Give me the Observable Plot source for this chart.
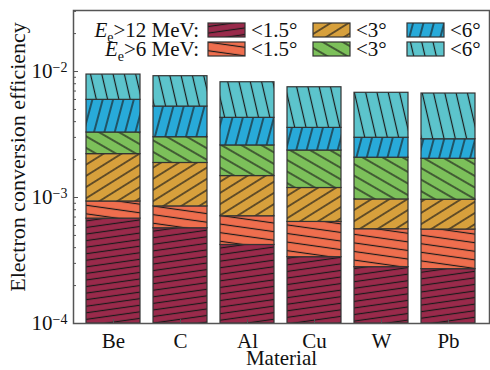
<!DOCTYPE html>
<html><head><meta charset="utf-8">
<script src="https://cdn.jsdelivr.net/npm/d3@7"></script>
<script src="https://cdn.jsdelivr.net/npm/@observablehq/plot@0.6"></script>
<style>body{margin:0;background:#fff} #chart{width:490px;height:370px}</style>
</head><body><div id="chart"></div>
<script>
// ---- data ----
const materials = ["Be", "C", "Al", "Cu", "W", "Pb"];
// efficiency for each (energy, angle) cut, bottom-most first
const eff12_15 = [0.68e-3, 0.57e-3, 0.42e-3, 0.336e-3, 0.28e-3, 0.27e-3];
const eff6_15  = [0.93e-3, 0.85e-3, 0.71e-3, 0.64e-3, 0.56e-3, 0.557e-3];
const eff12_3  = [2.21e-3, 1.88e-3, 1.48e-3, 1.19e-3, 0.965e-3, 0.96e-3];
const eff6_3   = [3.28e-3, 3.01e-3, 2.59e-3, 2.36e-3, 2.07e-3, 2.03e-3];
const eff12_6  = [5.96e-3, 5.27e-3, 4.29e-3, 3.57e-3, 2.98e-3, 2.90e-3];
const eff6_6   = [9.46e-3, 9.18e-3, 8.22e-3, 7.50e-3, 6.78e-3, 6.69e-3];
const seriesValues = [eff12_15, eff6_15, eff12_3, eff6_3, eff12_6, eff6_6];
const energyLabels = ["12", "6"];
const angleLabels = ["<1.5°", "<3°", "<6°"];
const yMajorTicks = [1e-4, 1e-3, 1e-2];
const yMinorTicks = [2,3,4,5,6,7,8,9].flatMap(m => [m*1e-4, m*1e-3, m*1e-2]).filter(v => v < 0.0305);
const yDomain = [1e-4, 0.0305];

// ---- styles ----
const colors = ["#9a2a4b", "#ef6e4e", "#d7a03c", "#7cc05a", "#28aad9", "#5cc4cc"];
const hatchAngles = [-8, 8, -32, 30, -75, 77];
const hatchSpacing = [6.5, 8.5, 9.5, 10, 10, 11];

// segments: each bar segment runs from the previous cut's value up to its own
const segments = seriesValues.map((vals, i) =>
  materials.map((m, j) => ({
    material: m,
    lo: i === 0 ? yDomain[0] : seriesValues[i - 1][j],
    hi: vals[j]
  }))
);

const font = "'Liberation Serif', 'DejaVu Serif', serif";

const plot = Plot.plot({
  width: 490, height: 370,
  marginLeft: 73, marginRight: 1, marginTop: 10, marginBottom: 47,
  style: {fontFamily: font, fontSize: "21px", color: "#111", background: "white", overflow: "visible"},
  x: {domain: materials, padding: 0.19, label: null},
  y: {type: "log", domain: yDomain, label: null},
  marks: [
    ...segments.map((seg, i) => Plot.barY(seg, {
      x: "material", y1: "lo", y2: "hi",
      fill: `url(#hatch${i})`, stroke: "#333", strokeWidth: 1.2
    })),
    Plot.frame({stroke: "#555", strokeWidth: 1.5}),
    Plot.axisY(yMinorTicks, {tickSize: -3, tickFormat: () => "", label: null, stroke: "#555"}),
    Plot.axisY(yMajorTicks, {tickSize: -5, tickPadding: 11, label: null, stroke: "#555",
      tickFormat: d => String(Math.round(Math.log10(d)))}),
    Plot.axisX({tickSize: -4, tickPadding: 14, label: null, stroke: "#555"}),
    Plot.text(["Material"], {text: d => d, frameAnchor: "bottom", dy: 35, lineAnchor: "middle",
      textAnchor: "middle", fontSize: 21}),
    Plot.text(["Electron conversion efficiency"], {text: d => d, frameAnchor: "left", dx: -56, dy: -10,
      rotate: -90, lineAnchor: "middle", textAnchor: "middle", fontSize: 22})
  ]
});

const svg = d3.select(plot);
const defs = svg.insert("defs", ":first-child");
colors.forEach((c, i) => {
  const s = hatchSpacing[i];
  const p = defs.append("pattern").attr("id", `hatch${i}`)
    .attr("patternUnits", "userSpaceOnUse")
    .attr("width", 20).attr("height", s)
    .attr("patternTransform", `rotate(${hatchAngles[i]})`);
  p.append("rect").attr("width", 20).attr("height", s).attr("fill", c);
  p.append("line").attr("x1", 0).attr("x2", 20).attr("y1", s / 2).attr("y2", s / 2)
    .attr("stroke", "#1a1a1a").attr("stroke-width", 1.2);
});

// y tick labels as 10^n
svg.selectAll('g[aria-label="y-axis tick label"] text').each(function() {
  const n = this.textContent;
  if (!n) return;
  const t = d3.select(this);
  t.text("10");
  t.append("tspan").attr("dy", "-0.45em").attr("font-size", "14px").text(n.replace("-", "\u2212"));
});

// legend inside the plot
const legend = svg.append("g").attr("font-family", font).attr("font-size", 21)
  .attr("fill", "#111").attr("text-anchor", "start");
const colX = [208, 313, 407];
const rowY = [23, 42];
energyLabels.forEach((e, r) => {
  const t = legend.append("text").attr("x", 199).attr("y", rowY[r] + 14).attr("text-anchor", "end");
  t.append("tspan").attr("font-style", "italic").text("E");
  t.append("tspan").attr("font-size", 14).attr("dy", 5).text("e");
  t.append("tspan").attr("dy", -5).text(`>${e} MeV:`);
  angleLabels.forEach((a, c) => {
    const idx = c * 2 + r;
    legend.append("rect").attr("x", colX[c]).attr("y", rowY[r]).attr("width", 37).attr("height", 14)
      .attr("fill", `url(#hatch${idx})`).attr("stroke", "#333").attr("stroke-width", 1.2);
    legend.append("text").attr("x", colX[c] + 43).attr("y", rowY[r] + 14).attr("text-anchor", "start").text(a);
  });
});

document.getElementById("chart").appendChild(plot);
</script>
</body></html>
